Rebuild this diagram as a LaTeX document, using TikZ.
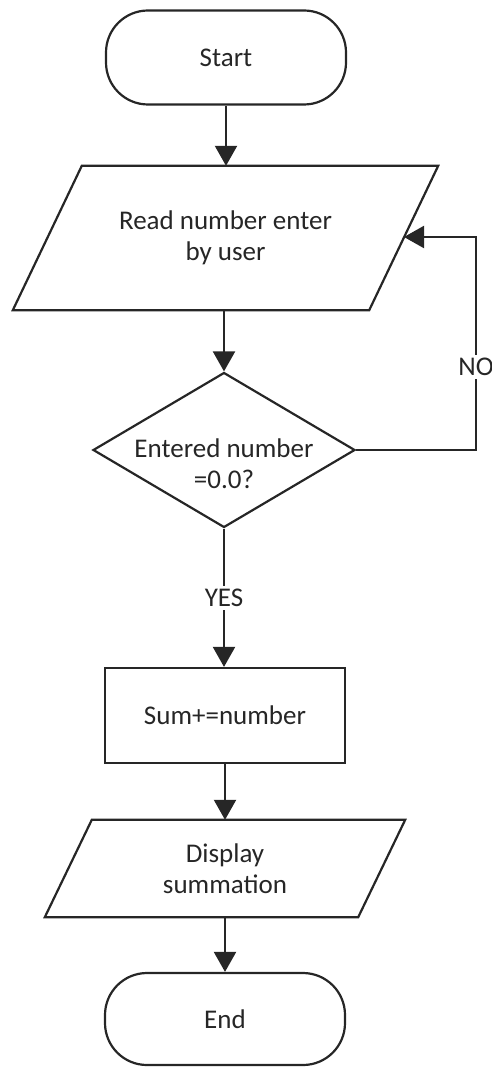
\documentclass[tikz,border=0pt]{standalone}
\usepackage{fontspec}
\setmainfont{Carlito}
\usetikzlibrary{shapes.geometric,arrows.meta,calc}
\begin{document}
\begin{tikzpicture}[x=1pt,y=-1pt,
  every node/.style={font=\fontsize{27}{31}\selectfont, text=black!85, align=center, inner sep=0pt},
  line/.style={draw=black!85, line width=2.2pt},
  conn/.style={line, -{Triangle[width=22pt,length=20pt]}},
  terminal/.style={line, rectangle, rounded corners=42pt, minimum width=240pt, minimum height=94pt},
  procbox/.style={line, rectangle, minimum width=240pt, minimum height=95pt},
  iobox/.style={rectangle, draw=none},
  decision/.style={line, diamond, minimum width=262pt, minimum height=155pt},
  lbl/.style={fill=white, inner sep=3pt}
]
\useasboundingbox (0,0) rectangle (492,1067);

\node[terminal] (start) at (226,57.5) {Start};

\node[iobox, minimum width=425pt, minimum height=144pt] (read) at (225.5,238) {Read number enter\\by user};
\draw[line, line join=miter] ($(read.north west)+(69,0)$) -- (read.north east) -- ($(read.south east)-(69,0)$) -- (read.south west) -- cycle;
\coordinate (readin) at (404,237);

\node[decision] (dec) at (224,450) {};
\node (dectext) at (224,464) {Entered number\\=0.0?};

\node[procbox] (sum) at (225,715.5) {Sum+=number};

\node[iobox, minimum width=360pt, minimum height=97pt] (disp) at (225,868.5) {Display\\summation};
\draw[line, line join=miter] ($(disp.north west)+(47,0)$) -- (disp.north east) -- ($(disp.south east)-(47,0)$) -- (disp.south west) -- cycle;

\node[terminal, minimum height=92pt] (end) at (225,1019) {End};

\coordinate (c1) at (476,450);
\coordinate (c2) at (476,237);

\draw[conn] (start.south) -- (start.south |- read.north);
\draw[conn] (read.south -| dec.north) -- (dec.north);
\draw[conn] (dec.south) -- node[lbl, pos=0.5] {YES} (dec.south |- sum.north);
\draw[conn] (sum.south) -- (disp.north);
\draw[conn] (disp.south) -- (end.north);
\draw[conn] (dec.east) -- (c1) -- node[lbl, pos=0.39] {NO} (c2) -- (readin);
\end{tikzpicture}
\end{document}
